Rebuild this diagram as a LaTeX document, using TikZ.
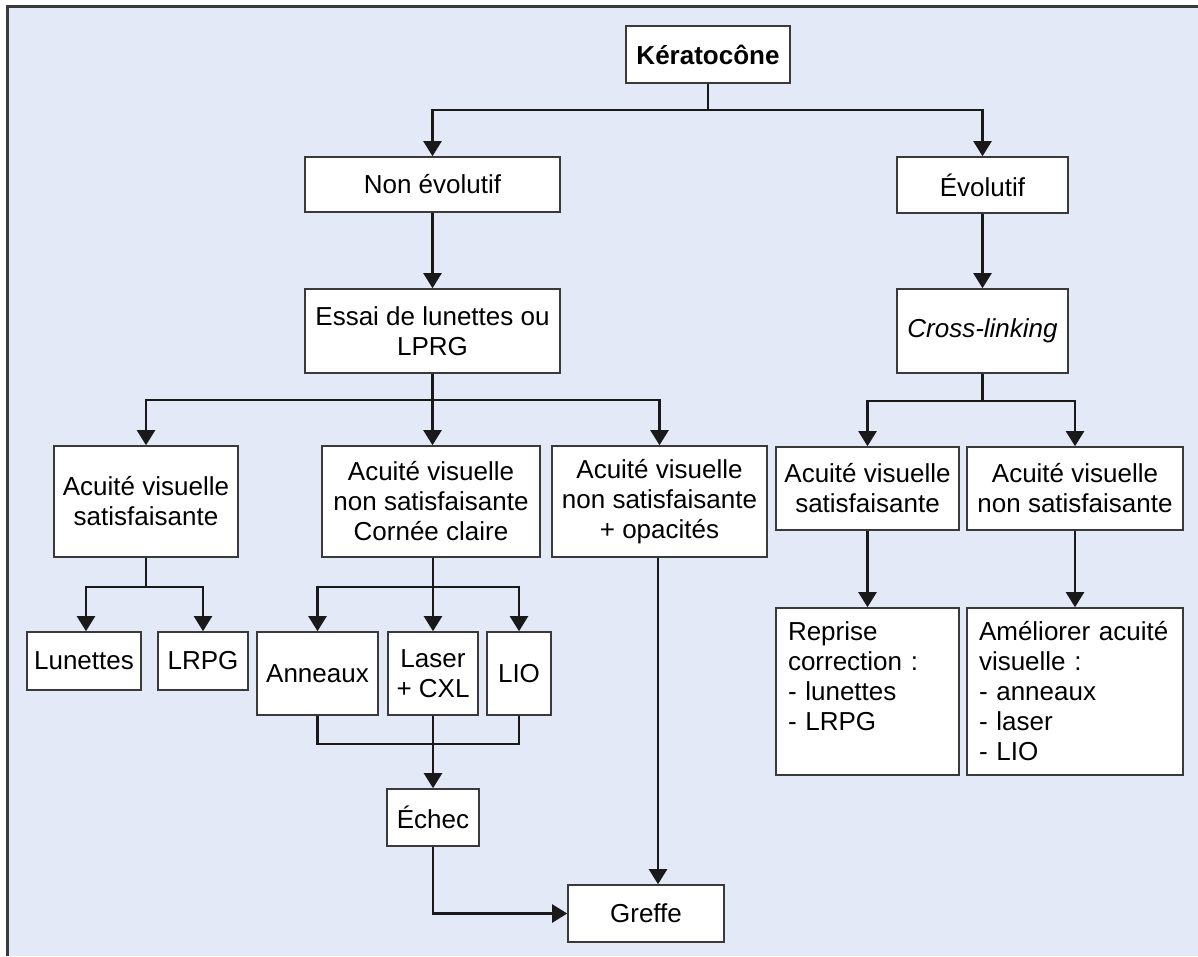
\documentclass[tikz,border=0pt]{standalone}
\usepackage{fontspec}
\setmainfont{Liberation Sans}
\usetikzlibrary{arrows.meta}
\definecolor{panel}{HTML}{E3E9F7}
\definecolor{rim}{HTML}{3A3A3A}
\tikzset{
  box/.style={draw=rim, line width=1.6pt, fill=white, align=center, inner sep=4pt,
    font=\fontsize{26}{30}\selectfont},
  listbox/.style={box, align=left, inner xsep=12pt, minimum height=167pt},
  link/.style={line width=2.2pt, draw=black!90},
  arr/.style={link, -{Triangle[length=15pt,width=18pt]}}
}
\begin{document}
\begin{tikzpicture}[x=1pt,y=-1pt]
  \useasboundingbox (0,0) rectangle (1198,956);
  \fill[panel] (7,6) rectangle (1198,956);
  \draw[rim, line width=3pt] (7,956) -- (7,6) -- (1198,6);

  \node[box, minimum width=164pt, minimum height=57pt] (kerato) at (708,54.5) {\textbf{Kératocône}};
  \node[box, minimum width=255pt, minimum height=55pt] (nonevo) at (432.5,184.5) {Non évolutif};
  \node[box, minimum width=171pt, minimum height=56pt] (evo) at (982.5,185) {Évolutif};
  \node[box, minimum width=255pt, minimum height=84pt] (essai) at (432.5,331) {Essai de lunettes ou\\LPRG};
  \node[box, minimum width=171pt, minimum height=84pt] (cxl) at (982.5,331) {\textit{Cross-linking}};

  \node[box, minimum width=184pt, minimum height=111pt] (avsL) at (146,501.5) {Acuité visuelle\\satisfaisante};
  \node[box, minimum width=218pt, minimum height=111pt] (avnsC) at (431,501.5) {Acuité visuelle\\non satisfaisante\\Cornée claire};
  \node[box, minimum width=215pt, minimum height=111pt] (avnsO) at (659.5,501.5) {Acuité visuelle\\non satisfaisante\\+ opacités};
  \node[box, minimum width=183pt, minimum height=83pt] (avsR) at (867.5,488.5) {Acuité visuelle\\satisfaisante};
  \node[box, minimum width=216pt, minimum height=83pt] (avnsR) at (1075,488.5) {Acuité visuelle\\non satisfaisante};

  \node[box, minimum width=114pt, minimum height=58pt] (lunettes) at (84,661) {Lunettes};
  \node[box, minimum width=90pt, minimum height=58pt] (lrpg) at (203,661) {LRPG};
  \node[box, minimum width=121pt, minimum height=83pt] (anneaux) at (317.5,673.5) {Anneaux};
  \node[box, minimum width=90pt, minimum height=83pt] (laser) at (433,673.5) {Laser\\+ CXL};
  \node[box, minimum width=64pt, minimum height=83pt] (lio) at (519,673.5) {LIO};
  \node[box, minimum width=92pt, minimum height=57pt] (echec) at (433,817.5) {Échec};
  \node[box, minimum width=156pt, minimum height=57pt] (greffe) at (646,913.5) {Greffe};

  \node[listbox, text width=159pt] (reprise) at (867.5,691.5) {Reprise\\correction :\\- lunettes\\- LRPG\\\mbox{}};
  \node[listbox, text width=192pt] (ameliorer) at (1075,691.5) {Améliorer acuité\\visuelle :\\- anneaux\\- laser\\- LIO};

  \coordinate (j1) at (708,110);
  \coordinate (j2) at (432.5,400);
  \coordinate (j3) at (982.5,401);
  \coordinate (j4) at (146,587);
  \coordinate (j5) at (433,587);
  \coordinate (j6) at (433,744);

  \draw[link] (kerato) -- (j1);
  \draw[arr] (j1) -| (nonevo);
  \draw[arr] (j1) -| (evo);
  \draw[arr] (nonevo) -- (essai);
  \draw[arr] (evo) -- (cxl);

  \draw[link] (essai) -- (j2);
  \draw[arr] (j2) -| (avsL);
  \draw[arr] (j2) -- (j2 |- avnsC.north);
  \draw[arr] (j2) -| (avnsO);
  \draw[link] (cxl) -- (j3);
  \draw[arr] (j3) -| (avsR);
  \draw[arr] (j3) -| (avnsR);

  \draw[link] (avsL) -- (j4);
  \draw[arr] (j4) -| ([xshift=2pt]lunettes.north);
  \draw[arr] (j4) -| (lrpg);
  \draw[link] (avnsC.south -| j5) -- (j5);
  \draw[arr] (j5) -| (anneaux);
  \draw[arr] (j5) -- (laser);
  \draw[arr] (j5) -| (lio);

  \draw[link] (anneaux) |- (j6) -| (lio);
  \draw[link] (laser) -- (j6);
  \draw[arr] (j6) -- (echec);
  \draw[arr] (echec) |- (greffe);
  \draw[arr] (avnsO.south -| 658,0) -- (greffe.north -| 658,0);

  \draw[arr] (avsR) -- (reprise);
  \draw[arr] (avnsR) -- (ameliorer);
\end{tikzpicture}
\end{document}
